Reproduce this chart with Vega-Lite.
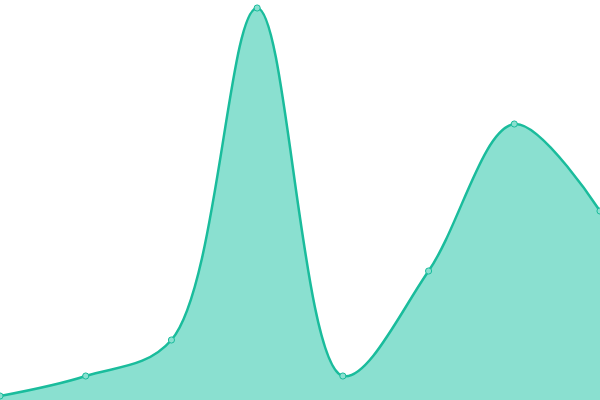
{
  "$schema": "https://vega.github.io/schema/vega-lite/v6.json",
  "autosize": {"type": "fit", "contains": "padding"},
  "width": 600,
  "height": 400,
  "padding": 0,
  "background": "white",
  "config": {"view": {"stroke": null}},
  "data": {"values": [
    {"i": 0, "v": 4},
    {"i": 1, "v": 24},
    {"i": 2, "v": 60},
    {"i": 3, "v": 392},
    {"i": 4, "v": 24},
    {"i": 5, "v": 129},
    {"i": 6, "v": 276},
    {"i": 7, "v": 189}
  ]},
  "encoding": {
    "x": {"field": "i", "type": "quantitative", "scale": {"domain": [0, 7], "nice": false, "zero": false}, "axis": null},
    "y": {"field": "v", "type": "quantitative", "scale": {"domain": [0, 400], "nice": false}, "axis": null}
  },
  "layer": [
    {"mark": {"type": "area", "interpolate": "catmull-rom", "color": "#8ae0d0", "opacity": 1, "clip": true}},
    {"mark": {"type": "line", "interpolate": "catmull-rom", "color": "#1abc9c", "strokeWidth": 2.5, "clip": true}},
    {"mark": {"type": "point", "filled": true, "size": 38, "fill": "#8ae0d0", "stroke": "#1abc9c", "strokeWidth": 1, "opacity": 1, "clip": true}}
  ]
}
